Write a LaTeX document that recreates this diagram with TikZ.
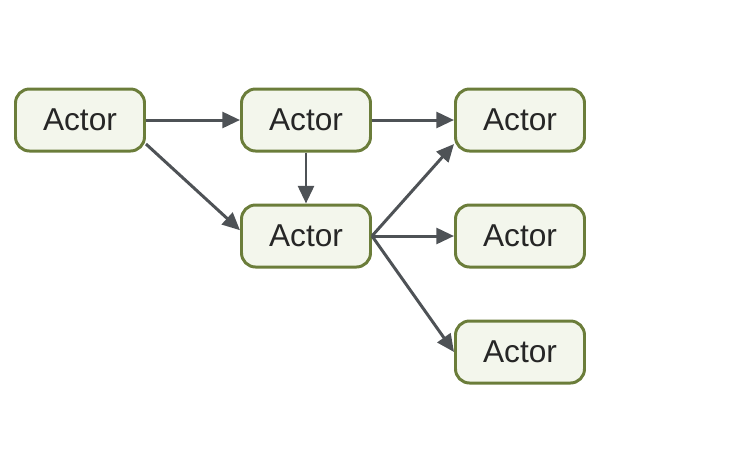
\documentclass[tikz,border=0pt]{standalone}
\usepackage{fontspec}
\setmainfont{Liberation Sans}
\usetikzlibrary{positioning, arrows.meta}

\definecolor{actorline}{HTML}{6B7D3A}
\definecolor{actorfill}{HTML}{F3F6EC}
\definecolor{flowgray}{HTML}{4E5256}

\begin{document}
\begin{tikzpicture}[node distance=4.4cm, on grid,
    actor/.style={draw=actorline, fill=actorfill, line width=1.7pt, rounded corners=8pt,
      minimum width=2.58cm, minimum height=1.24cm, inner sep=0pt,
      font=\fontsize{18}{20}\selectfont, text=black!85},
    flow/.style={every edge/.style={draw=flowgray, line width=1.7pt,
      -{Triangle[length=10pt, width=9pt]}}}]
  \useasboundingbox (0,0) rectangle (15,-9.08);

  \node[actor] (a1) at (1.6,-2.4) {Actor};
  \node[actor] (a2) [right=4.52cm of a1] {Actor};
  \node[actor] (a3) [right=4.28cm of a2] {Actor};
  \node[actor] (a4) [below=2.32cm of a2] {Actor};
  \node[actor] (a5) [right=4.28cm of a4] {Actor};
  \node[actor] (a6) [below=2.32cm of a5] {Actor};

  \path[flow]
  (a1) edge (a2)
    (a1.-20) edge (a4.175)
  (a2) edge (a4)
    (a2) edge (a3)
  (a4.east) edge (a3.200)
    (a4.east) edge (a5)
  (a4.east) edge (a6.west);
\end{tikzpicture}
\end{document}
